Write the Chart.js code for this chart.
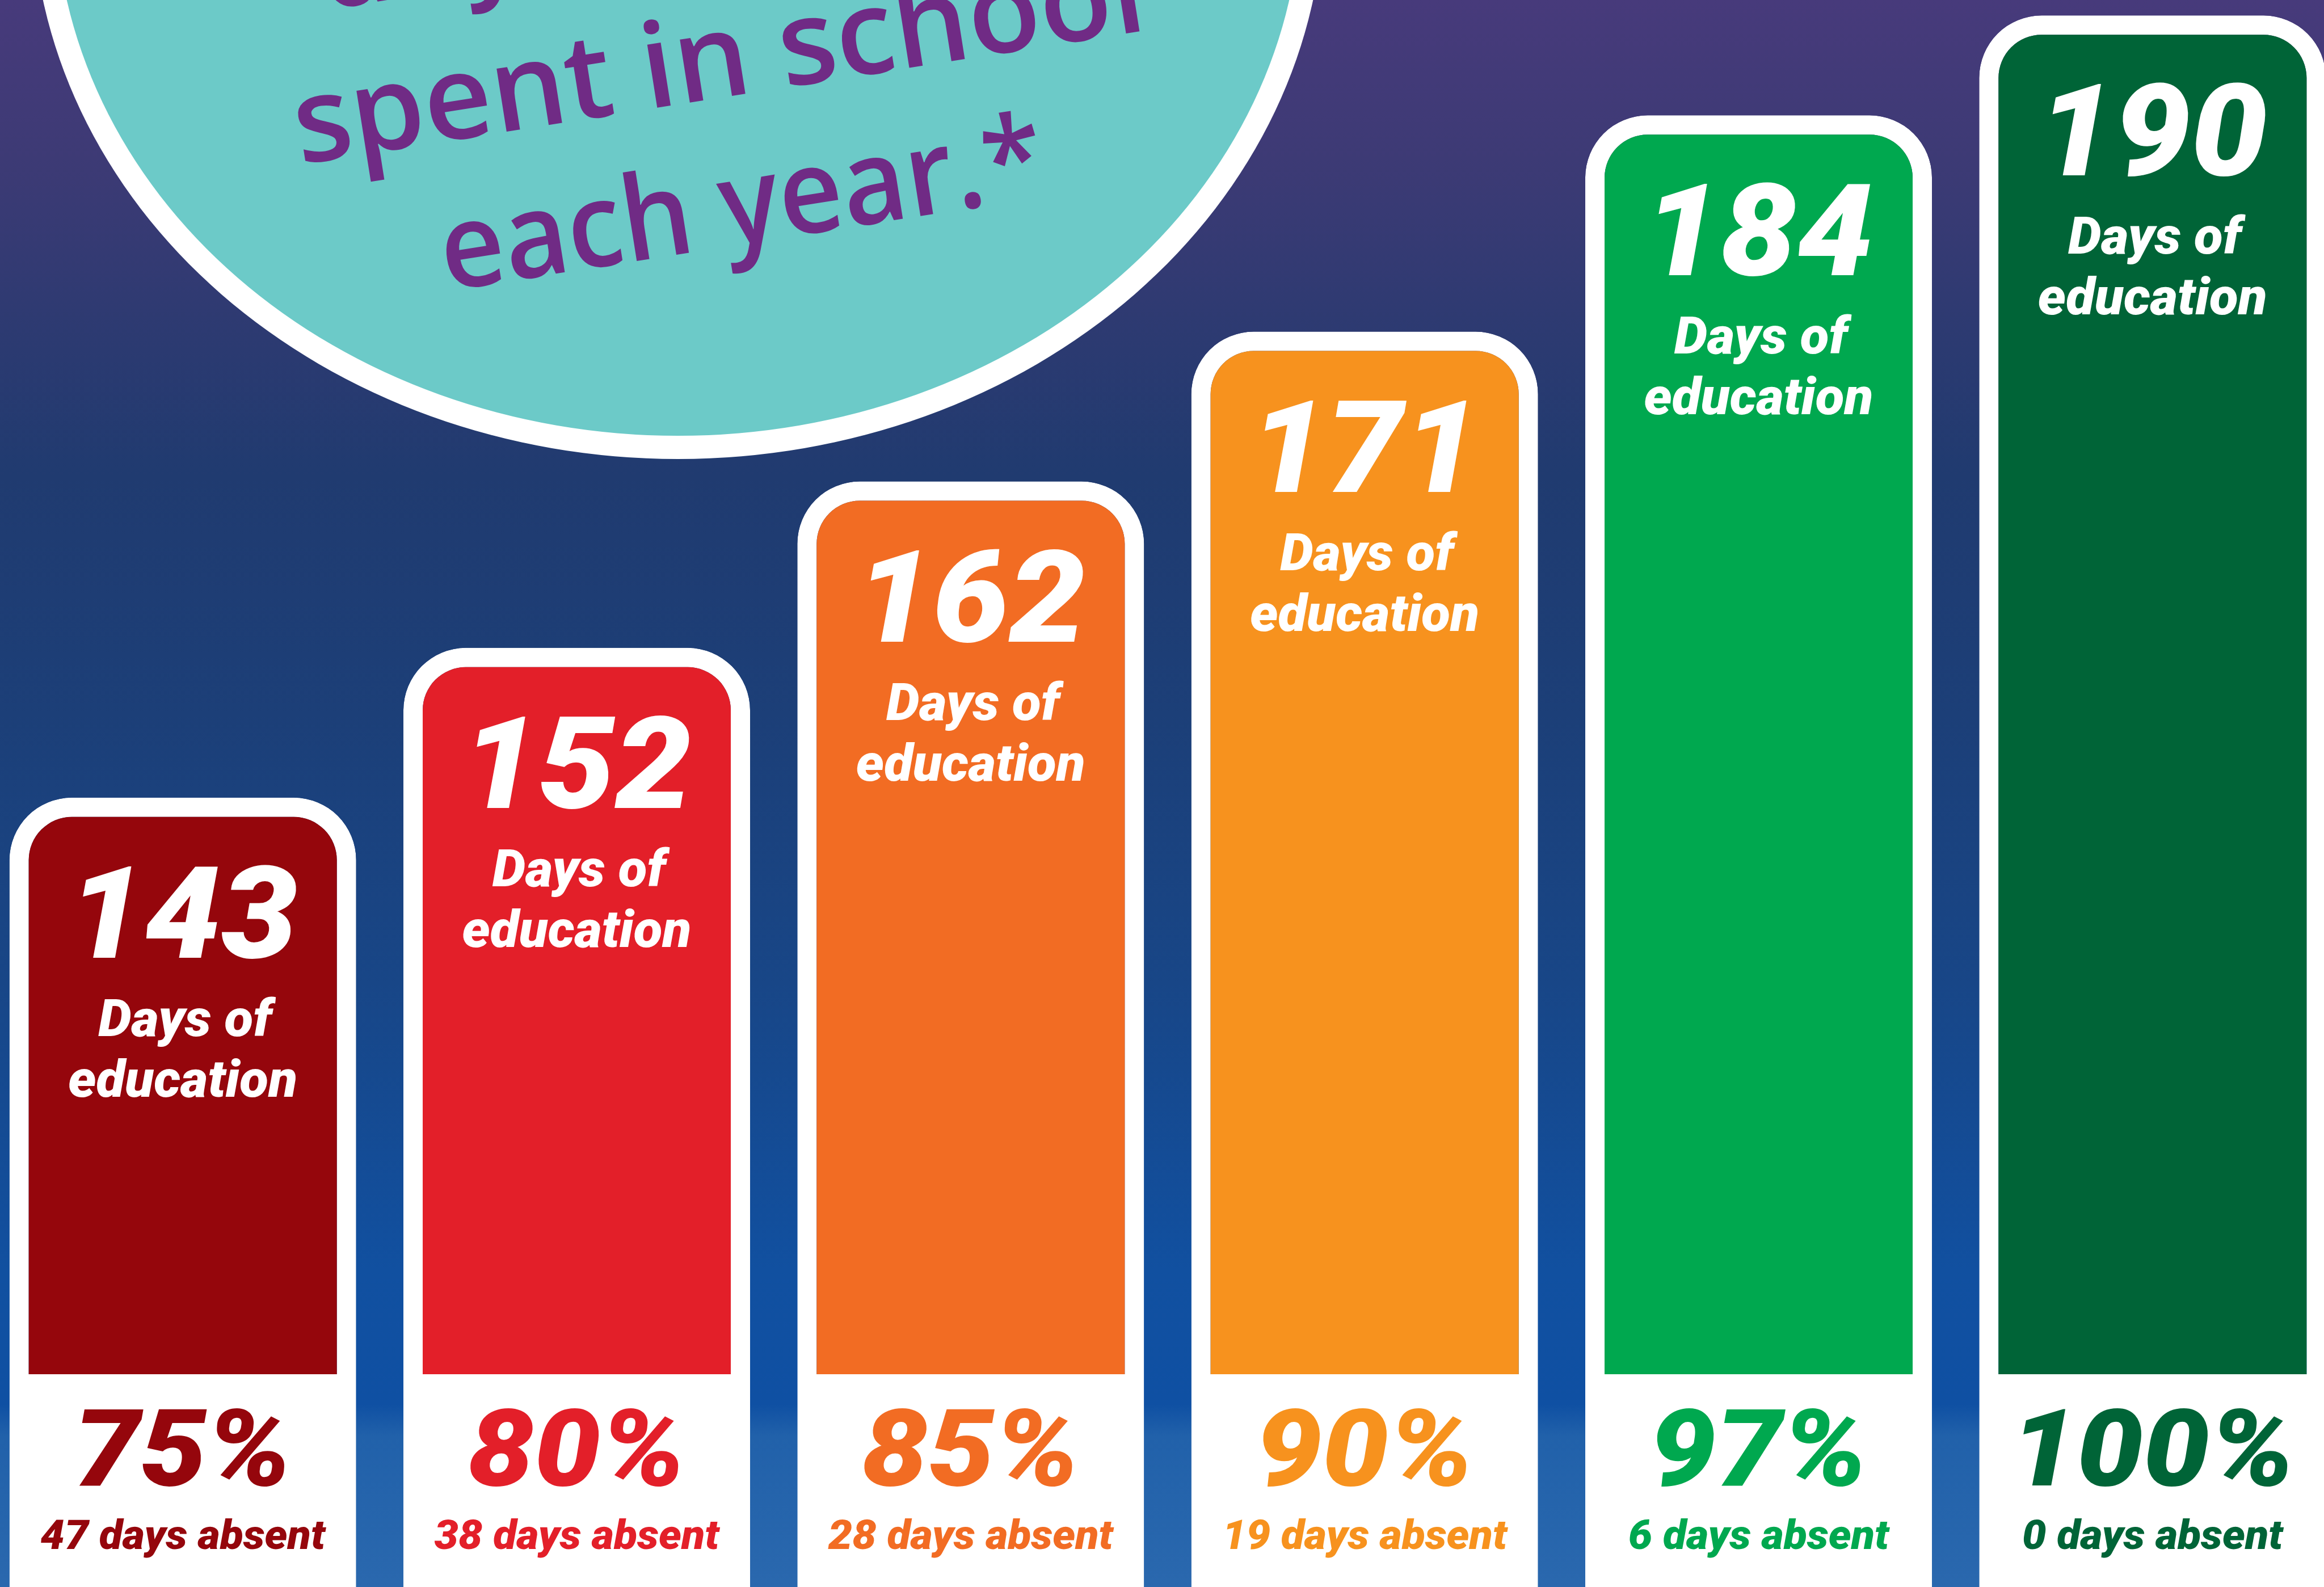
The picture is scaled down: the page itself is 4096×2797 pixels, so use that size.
<!DOCTYPE html>
<html>
<head>
<meta charset="utf-8">
<script src="https://cdn.jsdelivr.net/npm/chart.js@4.4.1/dist/chart.umd.min.js"></script>
<style>
  html, body { margin: 0; padding: 0; width: 4096px; height: 2797px; overflow: hidden; background: #1d3c74; }
  #wrap { position: absolute; left: -25px; top: 0; width: 4166px; height: 2797px; }
</style>
</head>
<body>
<div id="wrap"><canvas id="attendanceChart" width="4166" height="2797"></canvas></div>
<script>
const attendance = [75, 80, 85, 90, 97, 100];
const schoolDays = [143, 152, 162, 171, 184, 190];
const daysAbsent = [47, 38, 28, 19, 6, 0];
const barColors = ['#95060c', '#e31f29', '#f26c23', '#f7921e', '#00a84f', '#006437'];
const circleLines = ['days', 'spent in school', 'each year.*'];

const SHIFT = 25; // canvas starts 25px left of the window
const Y_MIN = 95.57;
const Y_MAX = 190.93;
const HEAVY = 'italic 900 SIZEpx Roboto, Lato, "DejaVu Sans", sans-serif';

function font(size) {
  return HEAVY.replace('SIZE', size);
}

function drawFit(ctx, text, x, y, sx, align) {
  ctx.save();
  ctx.translate(x, y);
  ctx.scale(sx, 1);
  ctx.textAlign = align || 'center';
  ctx.fillText(text, 0, 0);
  ctx.restore();
}

const backdrop = {
  id: 'backdrop',
  beforeDraw(chart) {
    const { ctx, width, height } = chart;
    ctx.save();
    const g = ctx.createLinearGradient(0, 0, 0, height);
    g.addColorStop(0, '#473a7b');
    g.addColorStop(0.1, '#3d3a75');
    g.addColorStop(0.22, '#2b3a71');
    g.addColorStop(0.3, '#203b70');
    g.addColorStop(0.45, '#1c3f78');
    g.addColorStop(0.62, '#184687');
    g.addColorStop(0.8, '#1150a0');
    g.addColorStop(0.885, '#0f50a3');
    g.addColorStop(0.905, '#2161aa');
    g.addColorStop(1, '#2a68ae');
    ctx.fillStyle = g;
    ctx.fillRect(0, 0, width, height);

    ctx.translate(SHIFT, 0);
    ctx.beginPath();
    ctx.ellipse(1195, -184, 1139, 993, 0, 0, Math.PI * 2);
    ctx.fillStyle = '#ffffff';
    ctx.fill();
    ctx.beginPath();
    ctx.ellipse(1195, -184, 1098, 952, 0, 0, Math.PI * 2);
    ctx.fillStyle = '#6ccac8';
    ctx.fill();

    // rotated caption in the circle
    ctx.translate(787, 513);
    ctx.rotate(-9 * Math.PI / 180);
    ctx.fillStyle = '#702b85';
    ctx.textBaseline = 'alphabetic';
    ctx.font = '600 208px "Open Sans", "Noto Sans", sans-serif';
    const sx1 = 1515 / ctx.measureText(circleLines[1]).width;
    const sx2 = 1075 / ctx.measureText(circleLines[2]).width;
    drawFit(ctx, circleLines[0], -134, -523, sx1, 'left');
    drawFit(ctx, circleLines[1], -220, -261, sx1, 'left');
    drawFit(ctx, circleLines[2], 0, 0, sx2, 'left');
    ctx.restore();
  }
};

const barText = {
  id: 'barText',
  afterDatasetsDraw(chart) {
    const { ctx } = chart;
    const bars = chart.getDatasetMeta(0).data;
    ctx.save();
    ctx.textBaseline = 'alphabetic';

    ctx.font = font(226);
    const sxNum = 405 / ctx.measureText('143').width;
    ctx.font = font(90);
    const sxSub = 404 / ctx.measureText('education').width;
    ctx.font = font(189);
    const sxPct = 384 / ctx.measureText('75%').width;
    ctx.font = font(72);
    const sxAbs = 502 / ctx.measureText('47 days absent').width;

    bars.forEach((bar, i) => {
      const x = bar.x;
      const top = bar.y;
      ctx.fillStyle = '#ffffff';
      ctx.font = font(226);
      drawFit(ctx, String(schoolDays[i]), x, top + 282, sxNum);
      ctx.font = font(90);
      drawFit(ctx, 'Days of', x + 4, top + 420, sxSub);
      drawFit(ctx, 'education', x, top + 527, sxSub);

      ctx.fillStyle = barColors[i];
      ctx.font = font(189);
      drawFit(ctx, `${attendance[i]}%`, x, 2618, sxPct);
      ctx.font = font(72);
      drawFit(ctx, `${daysAbsent[i]} days absent`, x, 2730, sxAbs);
    });
    ctx.restore();
  }
};

function build() {
  new Chart(document.getElementById('attendanceChart'), {
    type: 'bar',
    data: {
      labels: attendance.map((v) => `${v}%`),
      datasets: [{
        data: schoolDays,
        base: Y_MIN,
        backgroundColor: barColors,
        borderColor: '#ffffff',
        borderWidth: { top: 34, left: 34, right: 34, bottom: 375 },
        borderSkipped: false,
        borderRadius: { topLeft: 110, topRight: 110, bottomLeft: 0, bottomRight: 0 },
        categoryPercentage: 1,
        barPercentage: 0.88
      }]
    },
    options: {
      responsive: false,
      animation: false,
      devicePixelRatio: 1,
      layout: { padding: 0 },
      scales: {
        x: { display: false },
        y: { display: false, min: Y_MIN, max: Y_MAX }
      },
      plugins: { legend: { display: false }, tooltip: { enabled: false } }
    },
    plugins: [backdrop, barText]
  });
}

Promise.all([
  document.fonts.load('italic 900 100px Roboto'),
  document.fonts.load('600 100px "Open Sans"')
]).then(build, build);
</script>
</body>
</html>
